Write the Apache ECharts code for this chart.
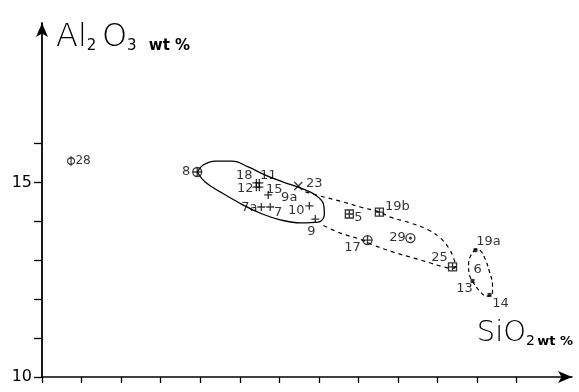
<!DOCTYPE html>
<html><head><meta charset="utf-8">
<script src="https://cdn.jsdelivr.net/npm/echarts@6/dist/echarts.min.js"></script>
<style>html,body{margin:0;padding:0;background:#fff}#c{width:579px;height:392px}</style>
</head><body><div id="c"></div>
<script>
// ---- data (SiO2 wt%, Al2O3 wt%) ----
const plusNames = ['18','11','12','15','9a','7a','7','10','9'];
const plusSiO2  = [54.84,54.99,54.84,54.99,55.44,55.09,55.54,57.52,57.82];
const plusAl2O3 = [14.99,14.99,14.88,14.88,14.68,14.37,14.37,14.40,14.06];

const circCrossNames = ['8','17'];
const circCrossSiO2  = [51.85,60.46];
const circCrossAl2O3 = [15.27,13.52];

const sqCrossNames = ['5','19b','25'];
const sqCrossSiO2  = [59.54,61.06,64.76];
const sqCrossAl2O3 = [14.19,14.24,12.83];

const xNames = ['23'];
const xSiO2  = [56.96];
const xAl2O3 = [14.91];

const ringNames = ['29'];
const ringSiO2  = [62.63];
const ringAl2O3 = [13.57];

const phiNames = ['28'];
const phiSiO2  = [45.47];
const phiAl2O3 = [15.55];

const fillNames = ['19a','13','14'];
const fillSiO2  = [65.92,65.77,66.63];
const fillAl2O3 = [13.26,12.47,12.11];

const textOnlyNames = ['6'];
const textOnlySiO2  = [66.03];
const textOnlyAl2O3 = [12.75];

// envelopes
const solidLoopSiO2  = [51.85,52.15,52.76,53.62,54.43,55.29,56.20,57.06,57.82,58.23,58.28,57.97,57.06,56.05,55.14,54.18,53.01,52.25,51.85];
const solidLoopAl2O3 = [15.27,15.45,15.55,15.55,15.40,15.19,15.01,14.86,14.68,14.45,14.19,13.98,13.96,14.04,14.19,14.42,14.76,15.01,15.27];

const dashLoopSiO2  = [57.32,58.08,59.09,60.10,61.06,61.62,62.63,63.54,64.15,64.56,64.81,64.91,64.76,64.15,63.65,62.78,61.77,60.76,60.20,59.09,58.08];
const dashLoopAl2O3 = [14.76,14.65,14.52,14.37,14.24,14.11,13.96,13.78,13.57,13.32,13.06,12.85,12.80,12.85,12.93,13.06,13.21,13.39,13.52,13.70,13.93];

const smallLoopSiO2  = [65.92,65.67,65.57,65.62,65.82,66.13,66.48,66.78,66.78,66.63,66.43,66.18,65.92];
const smallLoopAl2O3 = [13.29,13.11,12.88,12.62,12.42,12.21,12.08,12.13,12.37,12.70,13.01,13.24,13.29];

const xTicks = [44,46,48,50,52,54,56,58,60,62,64,66,68];
const yTicks = [10,11,12,13,14,15,16];
const yTickLabels = [10,15];

// ---- label placement (pixels relative to marker) ----
const labelOffset = {
  '28':[12,0],'8':[-11,0],'18':[-12,-7],'11':[9,-7],'12':[-11,1],'15':[15,2],
  '9a':[21,3],'7a':[-12,1],'7':[8,6],'23':[16,-2],'10':[-13,5],'9':[-4,13],
  '5':[9,4],'19b':[18,-5],'17':[-15,8],'29':[-13,0],'25':[-13,-9],
  '19a':[13,-9],'13':[-8,8],'14':[11,9],'6':[0,0]
};
const labelFont = 'DejaVu Sans';

function pts(names, xs, ys) {
  return names.map((n, i) => ({
    name: n, value: [xs[i], ys[i]],
    label: { offset: labelOffset[n] || [0,0], fontSize: n === '28' ? 12 : 13 }
  }));
}
function loop(xs, ys) { return xs.map((x, i) => [x, ys[i]]); }

const strokeStyle = { color: 'transparent', borderColor: '#000', borderWidth: 1.3 };
const lbl = { show: true, position: 'inside', formatter: '{b}', color: '#000', fontFamily: labelFont, fontSize: 13 };

function scatter(data, symbol, size, style) {
  return { type: 'scatter', data, symbol, symbolSize: size, itemStyle: style, label: lbl, silent: true, z: 5 };
}

const option = {
  animation: false,
  backgroundColor: '#fff',
  grid: { left: 42, right: 7, top: 23, bottom: 15 },
  xAxis: {
    type: 'value', min: 44, max: 70.8,
    axisLine: { show: true, symbol: ['none','arrow'], symbolSize: [9,14], lineStyle: { color: '#000', width: 1.6 } },
    axisTick: { show: true, customValues: xTicks, length: 6, lineStyle: { color: '#000', width: 1.3 } },
    axisLabel: { show: false },
    splitLine: { show: false }
  },
  yAxis: {
    type: 'value', min: 10, max: 19.1,
    axisLine: { show: true, symbol: ['none','arrow'], symbolSize: [9,14], lineStyle: { color: '#000', width: 1.8 } },
    axisTick: { show: true, customValues: yTicks, length: 8, lineStyle: { color: '#000', width: 1.3 } },
    axisLabel: { show: true, customValues: yTickLabels, color: '#000', fontFamily: labelFont, fontSize: 16, margin: 10 },
    splitLine: { show: false }
  },
  graphic: [
    { type: 'text', left: 56, top: 10, silent: true,
      style: { text: '{b|Al}{s|2}{sp1| }{b|O}{s|3}{sp2| }{w|wt %}', fill: '#000',
        rich: {
          b: { fontSize: 32, fontFamily: labelFont, fontWeight: 300, verticalAlign: 'bottom', lineHeight: 34 },
          s: { fontSize: 15, fontFamily: labelFont, verticalAlign: 'bottom', lineHeight: 25 },
          sp1: { fontSize: 20, lineHeight: 20, verticalAlign: 'bottom' },
          sp2: { fontSize: 44, lineHeight: 20, verticalAlign: 'bottom' },
          w: { fontSize: 15, fontFamily: labelFont, fontWeight: 'bold', verticalAlign: 'bottom', lineHeight: 25 }
        } } },
    { type: 'text', right: 6, top: 319, silent: true,
      style: { text: '{b|Si}{b|O}{s|2}{sp| }{w|wt %}', fill: '#000',
        rich: {
          b: { fontSize: 29, fontFamily: labelFont, fontWeight: 300, verticalAlign: 'bottom', lineHeight: 31 },
          s: { fontSize: 14, fontFamily: labelFont, verticalAlign: 'bottom', lineHeight: 23 },
          sp: { fontSize: 8, lineHeight: 19, verticalAlign: 'bottom' },
          w: { fontSize: 13, fontFamily: labelFont, fontWeight: 'bold', verticalAlign: 'bottom', lineHeight: 23 }
        } } }
  ],
  series: [
    { type: 'line', data: loop(solidLoopSiO2, solidLoopAl2O3), smooth: 0.4, showSymbol: false, silent: true,
      lineStyle: { color: '#000', width: 1.3 }, z: 2 },
    { type: 'line', data: loop(dashLoopSiO2, dashLoopAl2O3), smooth: 0.4, showSymbol: false, silent: true,
      lineStyle: { color: '#000', width: 1.2, type: [4,4] }, z: 2 },
    { type: 'line', data: loop(smallLoopSiO2, smallLoopAl2O3), smooth: 0.4, showSymbol: false, silent: true,
      lineStyle: { color: '#000', width: 1.2, type: [4,3] }, z: 2 },
    scatter(pts(plusNames, plusSiO2, plusAl2O3), 'path://M0,5H10M5,0V10', 8, strokeStyle),
    scatter(pts(circCrossNames, circCrossSiO2, circCrossAl2O3), 'path://M0,5A5,5 0 1 1 10,5A5,5 0 1 1 0,5ZM0,5H10M5,0V10', 9, strokeStyle),
    scatter(pts(sqCrossNames, sqCrossSiO2, sqCrossAl2O3), 'path://M0,0H10V10H0ZM0,5H10M5,0V10', 8, strokeStyle),
    scatter(pts(xNames, xSiO2, xAl2O3), 'path://M0,0L10,10M10,0L0,10', 8, strokeStyle),
    scatter(pts(ringNames, ringSiO2, ringAl2O3), 'path://M0,5A5,5 0 1 1 10,5A5,5 0 1 1 0,5ZM4,5A1,1 0 1 1 6,5A1,1 0 1 1 4,5Z', 9, strokeStyle),
    scatter(pts(phiNames, phiSiO2, phiAl2O3), 'path://M1,6A4,4 0 1 1 9,6A4,4 0 1 1 1,6ZM5,0V12', [7,10], strokeStyle),
    scatter(pts(fillNames, fillSiO2, fillAl2O3), 'rect', 4, { color: '#000' }),
    scatter(pts(textOnlyNames, textOnlySiO2, textOnlyAl2O3), 'circle', 1, { color: 'transparent' })
  ]
};
const chart = echarts.init(document.getElementById('c'), null, { renderer: 'canvas' });
chart.setOption(option);
</script>
</body></html>
